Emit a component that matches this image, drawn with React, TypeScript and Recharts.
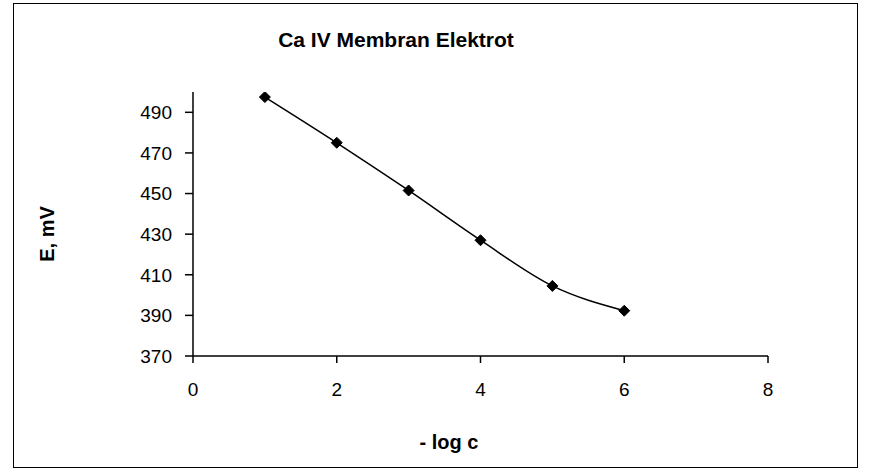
import { LineChart, Line, XAxis, YAxis } from "recharts"

const logC = [1, 2, 3, 4, 5, 6]
const potential = [497.5, 475, 451.5, 427, 404.5, 392.3]
const xTicks = [0, 2, 4, 6, 8]
const yTicks = [370, 390, 410, 430, 450, 470, 490]

const data = logC.map((x, i) => ({ x, e: potential[i] }))

const font = "Arial, 'Liberation Sans', sans-serif"

// siyah elmas işaretçi
const Diamond = (props: any) => {
  const { cx, cy } = props
  if (cx == null || cy == null) return null
  const r = 5.5
  return (
    <path
      d={`M${cx},${cy - r} L${cx + r},${cy} L${cx},${cy + r} L${cx - r},${cy} Z`}
      fill="#000"
      stroke="#000"
    />
  )
}

export default function App() {
  return (
    <div style={{ position: "absolute", left: 0, top: 0, width: 869, height: 475, background: "#fff", fontFamily: font }}>
      <div style={{ position: "absolute", left: 13, top: 3, width: 843, height: 463, border: "1px solid #000" }} />
      <div style={{ position: "absolute", left: 0, top: 28, width: 792, textAlign: "center", fontSize: 21, fontWeight: "bold", lineHeight: "24px" }}>
        Ca IV Membran Elektrot
      </div>
      <div style={{ position: "absolute", left: 47, top: 234, transform: "translate(-50%, -50%) rotate(-90deg)", fontSize: 20, fontWeight: "bold", whiteSpace: "nowrap" }}>
        E, mV
      </div>
      <div style={{ position: "absolute", left: 449, top: 442, transform: "translate(-50%, -50%)", fontSize: 20, fontWeight: "bold", whiteSpace: "nowrap" }}>
        - log c
      </div>
      <div style={{ position: "absolute", left: 0, top: 0 }}>
        <LineChart width={869} height={475} data={data} margin={{ top: 92, right: 101, bottom: 79, left: 143 }}>
          <XAxis
            dataKey="x"
            type="number"
            domain={[0, 8]}
            ticks={xTicks}
            allowDataOverflow
            stroke="#000"
            strokeWidth={1.5}
            tickSize={7}
            tickMargin={20}
            tick={{ fill: "#000", fontSize: 19, fontFamily: font }}
            height={40}
          />
          <YAxis
            type="number"
            domain={[370, 500]}
            ticks={yTicks}
            allowDataOverflow
            stroke="#000"
            strokeWidth={1.5}
            tickSize={8}
            tickMargin={13}
            tick={{ fill: "#000", fontSize: 19, fontFamily: font }}
            width={50}
          />
          <Line
            type="monotone"
            dataKey="e"
            stroke="#000"
            strokeWidth={1.5}
            dot={<Diamond />}
            activeDot={false}
            isAnimationActive={false}
          />
        </LineChart>
      </div>
    </div>
  )
}
